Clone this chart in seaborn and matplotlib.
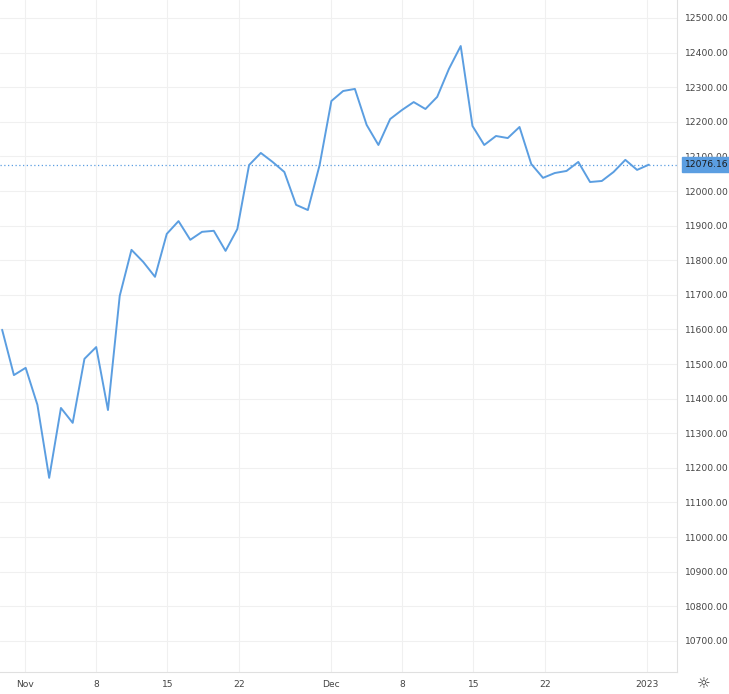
import numpy as np
import pandas as pd
import seaborn as sns
import matplotlib.pyplot as plt

# closes
precos = [11599, 11468, 11489, 11382, 11171, 11373, 11330, 11515, 11549, 11367,
          11697, 11830, 11795, 11752, 11876, 11913, 11859, 11882, 11885, 11827,
          11890, 12075, 12110, 12084, 12055, 11960, 11945, 12075, 12260, 12289,
          12295, 12191, 12133, 12208, 12234, 12257, 12237, 12272, 12353, 12419,
          12188, 12133, 12159, 12153, 12185, 12078, 12038, 12052, 12058, 12084,
          12026, 12029, 12055, 12090, 12061, 12076.16]
dias = np.linspace(-1.2, 62.2, len(precos))  # dias desde 31/out
ultimo = 12076.16

tick_dias = [1, 8, 15, 22, 31, 38, 45, 52, 62]
tick_labels = ['Nov', '8', '15', '22', 'Dec', '8', '15', '22', '2023']
niveis = list(range(10700, 12501, 100))

df = pd.DataFrame({'dia': dias, 'preco': precos})

sns.set_style('white')
plt.rcParams['font.family'] = ['DejaVu Sans']
fig = plt.figure(figsize=(7.29, 6.94), dpi=100)
ax = fig.add_axes([0, 22 / 694, 677 / 729, 672 / 694])

sns.lineplot(data=df, x='dia', y='preco', ax=ax, color='#5b9ee1', linewidth=1.4)
ax.axhline(ultimo, color='#5b9ee1', linestyle=(0, (1, 2)), linewidth=0.9)

ax.set_xlim(-1.41, 64.96)
ax.set_ylim(10610, 12552)
ax.set_xticks(tick_dias)
ax.set_xticklabels(tick_labels)
ax.set_yticks(niveis)
ax.set_yticklabels([f'{v:.2f}' for v in niveis])
ax.yaxis.tick_right()
ax.tick_params(axis='both', length=0, labelsize=6.6, labelcolor='#444444')
ax.tick_params(axis='y', pad=6)
ax.tick_params(axis='x', pad=6)
ax.grid(True, color='#f0f0f0', linewidth=0.8)
ax.set_xlabel('')
ax.set_ylabel('')
for s in ['top', 'left']:
    ax.spines[s].set_visible(False)
for s in ['right', 'bottom']:
    ax.spines[s].set_color('#e0e0e0')

ax.annotate(f'{ultimo:.2f}', xy=(1.0, ultimo), xycoords=('axes fraction', 'data'),
            xytext=(6, 0), textcoords='offset points', va='center', ha='left',
            fontsize=6.6, color='#1a1a1a',
            bbox=dict(boxstyle='square,pad=0.35', fc='#5b9ee1', ec='#5b9ee1'))

fig.text(704 / 729, 10 / 694, '☼', ha='center', va='center', fontsize=11, color='#333333')
fig.savefig('out.png', dpi=100)
